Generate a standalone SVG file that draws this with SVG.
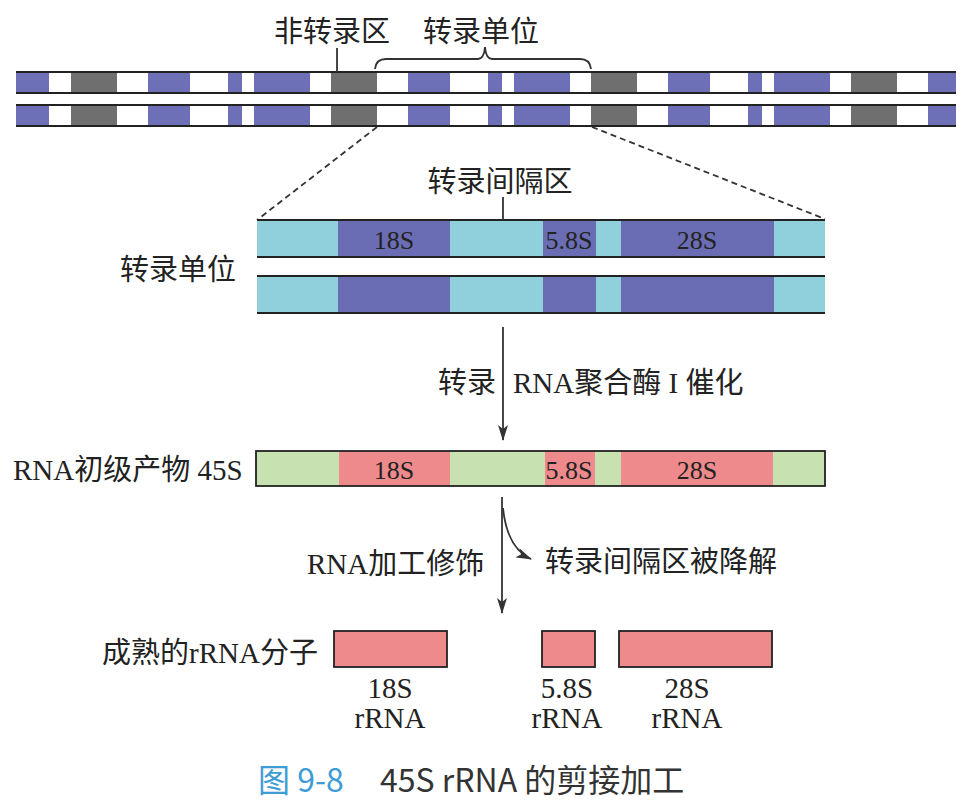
<svg xmlns="http://www.w3.org/2000/svg" width="963" height="801" viewBox="0 0 963 801">
<style>
.lbl{font-family:"Liberation Serif","Noto Sans CJK SC",serif;font-size:29px;fill:#222}
.seg{font-family:"Liberation Serif","Noto Sans CJK SC",serif;font-size:26px;fill:#222;text-anchor:middle}
.mid{text-anchor:middle}
.edge{stroke:#222;stroke-width:1.8;fill:none}
.conn{stroke:#333;stroke-width:1.8;fill:none}
.dash{stroke:#333;stroke-width:1.8;fill:none;stroke-dasharray:6 4}
.b{fill:#6d70b7}
.g{fill:#6f6f6f}
.cy{fill:#8fd0dc}
.pu{fill:#6b6db4}
.gr{fill:#c7e1b0}
.pk{fill:#ef8a8c}
.cap{font-family:"Noto Sans CJK SC","Liberation Sans",sans-serif;font-size:32px;fill:#333}
</style>
<defs>
<marker id="ah" viewBox="0 0 16 10" refX="15" refY="5" markerWidth="16" markerHeight="10" markerUnits="userSpaceOnUse" orient="auto">
<path d="M0,0 L16,5 L0,10 L4,5 Z" fill="#333"/>
</marker>
<g id="dnaStrip">
<rect x="16" y="0" width="940" height="21" fill="#fff"/>
<rect class="b" x="16" y="0" width="33" height="21"/>
<rect class="g" x="71" y="0" width="46" height="21"/>
<rect class="b" x="148" y="0" width="42" height="21"/>
<rect class="b" x="228" y="0" width="14" height="21"/>
<rect class="b" x="254" y="0" width="56" height="21"/>
<rect class="g" x="331" y="0" width="46" height="21"/>
<rect class="b" x="408" y="0" width="42" height="21"/>
<rect class="b" x="488" y="0" width="14" height="21"/>
<rect class="b" x="514" y="0" width="56" height="21"/>
<rect class="g" x="591" y="0" width="46" height="21"/>
<rect class="b" x="668" y="0" width="42" height="21"/>
<rect class="b" x="748" y="0" width="14" height="21"/>
<rect class="b" x="774" y="0" width="56" height="21"/>
<rect class="g" x="851" y="0" width="46" height="21"/>
<rect class="b" x="928" y="0" width="28" height="21"/>
<line class="edge" x1="16" y1="0" x2="956" y2="0"/>
<line class="edge" x1="16" y1="21" x2="956" y2="21"/>
</g>
<g id="unitStrip">
<rect class="cy" x="257" y="0" width="568" height="37"/>
<rect class="pu" x="338" y="0" width="112" height="37"/>
<rect class="pu" x="543" y="0" width="53" height="37"/>
<rect class="pu" x="621" y="0" width="153" height="37"/>
<line class="edge" x1="257" y1="0" x2="825" y2="0"/>
<line class="edge" x1="257" y1="37" x2="825" y2="37"/>
</g>
</defs>

<g id="dna-strand-1"><use href="#dnaStrip" y="72"/></g>
<g id="dna-strand-2"><use href="#dnaStrip" y="105"/></g>
<g id="label-nontranscribed"><text class="lbl mid" x="332" y="42">非转录区</text></g>
<g id="label-unit-top"><text class="lbl mid" x="481" y="42">转录单位</text></g>

<g id="unit-strand-1"><use href="#unitStrip" y="220"/>
<text class="seg" x="394" y="249">18S</text>
<text class="seg" x="569" y="249">5.8S</text>
<text class="seg" x="697" y="249">28S</text>
</g>
<g id="unit-strand-2"><use href="#unitStrip" y="276"/></g>
<g id="label-spacer"><text class="lbl mid" x="500" y="192">转录间隔区</text></g>
<g id="label-unit-left"><text class="lbl" x="120" y="280">转录单位</text></g>

<g id="label-transcribe">
<text class="lbl" x="438" y="393">转录</text>
<text class="lbl" x="513" y="393">RNA聚合酶 I 催化</text>
</g>

<g id="rna-45s">
<rect class="gr" x="256" y="451" width="569" height="35"/>
<rect class="pk" x="339" y="451" width="111" height="35"/>
<rect class="pk" x="545" y="451" width="50" height="35"/>
<rect class="pk" x="621" y="451" width="152" height="35"/>
<rect x="256" y="451" width="569" height="35" fill="none" stroke="#222" stroke-width="1.8"/>
<text class="seg" x="394" y="479">18S</text>
<text class="seg" x="569" y="479">5.8S</text>
<text class="seg" x="697" y="479">28S</text>
</g>
<g id="label-45s"><text class="lbl" x="13" y="480">RNA初级产物 45S</text></g>

<g id="label-processing">
<text class="lbl" x="307" y="574">RNA加工修饰</text>
<text class="lbl" x="545" y="572">转录间隔区被降解</text>
</g>

<g id="label-mature"><text class="lbl" x="102" y="663">成熟的rRNA分子</text></g>
<g id="rrna-18s">
<rect class="pk" x="334" y="631" width="113" height="36" stroke="#222" stroke-width="1.8"/>
<text class="lbl mid" x="390" y="698">18S</text>
<text class="lbl mid" x="390" y="728">rRNA</text>
</g>
<g id="rrna-5-8s">
<rect class="pk" x="542" y="631" width="53" height="36" stroke="#222" stroke-width="1.8"/>
<text class="lbl mid" x="567" y="698">5.8S</text>
<text class="lbl mid" x="567" y="728">rRNA</text>
</g>
<g id="rrna-28s">
<rect class="pk" x="619" y="631" width="153" height="36" stroke="#222" stroke-width="1.8"/>
<text class="lbl mid" x="687" y="698">28S</text>
<text class="lbl mid" x="687" y="728">rRNA</text>
</g>

<g id="connectors">
<line class="conn" x1="337" y1="48" x2="337" y2="72"/>
<path class="conn" d="M375,69 Q376,59 386,59 L478,59 Q484,59 485,47 Q486,59 492,59 L580,59 Q590,59 591,69"/>
<line class="dash" x1="377" y1="127" x2="257" y2="220"/>
<line class="dash" x1="592" y1="127" x2="825" y2="219"/>
<line class="conn" x1="503" y1="197" x2="503" y2="220"/>
<line class="conn" x1="503" y1="327" x2="503" y2="440" marker-end="url(#ah)"/>
<line class="conn" x1="502" y1="497" x2="502" y2="613" marker-end="url(#ah)"/>
<path class="conn" d="M503,508 Q507,548 531,559" marker-end="url(#ah)"/>
</g>

<g id="caption">
<text class="cap" x="258" y="792" style="fill:#3d9bd6">图 9-8</text>
<text class="cap" x="380" y="792">45S rRNA 的剪接加工</text>
</g>
</svg>
